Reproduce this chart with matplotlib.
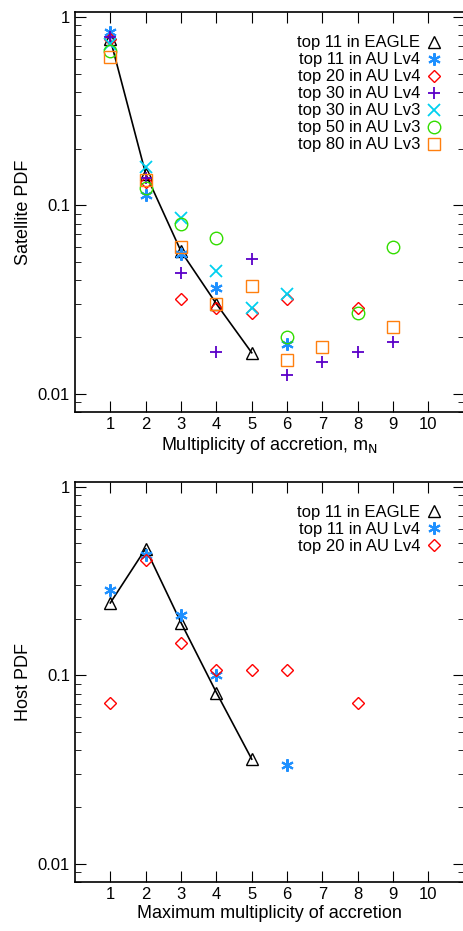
import matplotlib
matplotlib.use("Agg")
import matplotlib.pyplot as plt
import numpy as np
from matplotlib.ticker import FixedLocator, LogLocator, NullFormatter

plt.rcParams["font.family"] = ["Liberation Sans", "DejaVu Sans"]

# satellite PDF (top panel)
eagle_x = [1, 2, 3, 4, 5]
eagle_y = [0.76, 0.147, 0.057, 0.030, 0.0165]
au4_11_x = [1, 2, 3, 4, 6]
au4_11_y = [0.83, 0.113, 0.055, 0.0366, 0.0183]
au4_20_x = [1, 2, 3, 4, 5, 6, 8]
au4_20_y = [0.76, 0.133, 0.032, 0.0286, 0.0268, 0.032, 0.0286]
au4_30_x = [1, 2, 3, 4, 5, 6, 7, 8, 9]
au4_30_y = [0.78, 0.14, 0.0437, 0.0167, 0.0519, 0.0125, 0.0147, 0.0167, 0.0188]
au3_30_x = [1, 2, 3, 4, 5, 6]
au3_30_y = [0.72, 0.16, 0.086, 0.0446, 0.0285, 0.0337]
au3_50_x = [1, 2, 3, 4, 6, 8, 9]
au3_50_y = [0.66, 0.124, 0.080, 0.0667, 0.020, 0.0268, 0.0598]
au3_80_x = [1, 2, 3, 4, 5, 6, 7, 9]
au3_80_y = [0.61, 0.136, 0.0598, 0.030, 0.0373, 0.0151, 0.0176, 0.0226]

# host PDF (bottom panel)
host_eagle_x = [1, 2, 3, 4, 5]
host_eagle_y = [0.242, 0.47, 0.19, 0.081, 0.0359]
host_au11_x = [1, 2, 3, 4, 6]
host_au11_y = [0.283, 0.434, 0.208, 0.1, 0.0335]
host_au20_x = [1, 2, 3, 4, 5, 6, 8]
host_au20_y = [0.0714, 0.41, 0.148, 0.107, 0.107, 0.107, 0.0714]

BLUE = "#1e90ff"
mfill = dict(linestyle="none", markerfacecolor="none")


def style_axis(ax, xlabel, ylabel):
    ax.set_yscale("log")
    ax.set_xlim(0, 11)
    ax.set_ylim(0.008, 1.06)
    ax.xaxis.set_major_locator(FixedLocator(range(1, 11)))
    ax.yaxis.set_major_locator(FixedLocator([0.01, 0.1, 1]))
    ax.yaxis.set_minor_locator(LogLocator(subs=np.arange(2, 10)))
    ax.yaxis.set_minor_formatter(NullFormatter())
    ax.set_yticklabels(["0.01", "0.1", "1"])
    ax.tick_params(which="both", direction="in", top=True, right=True, labelsize=12)
    ax.tick_params(which="major", length=8)
    ax.tick_params(which="minor", length=4)
    for s in ax.spines.values():
        s.set_linewidth(1.2)
    ax.set_xlabel(xlabel, fontsize=13, labelpad=2)
    ax.set_ylabel(ylabel, fontsize=13)
    ax.legend(loc="upper right", frameon=False, markerfirst=False, fontsize=12,
              handlelength=0.8, handletextpad=0.4, labelspacing=0.12,
              borderaxespad=1.0)


fig = plt.figure(figsize=(4.64, 9.31), dpi=100)
ax1 = fig.add_axes([0.1616, 0.5575, 0.838, 0.4295])
ax1.plot(eagle_x, eagle_y, color="black", lw=1.2, zorder=1)
ax1.plot(eagle_x, eagle_y, marker="^", ms=8, color="black", label="top 11 in EAGLE", **mfill)
ax1.plot(au4_11_x, au4_11_y, marker=(6, 2, 0), ms=9, color=BLUE, mew=1.5, label="top 11 in AU Lv4", linestyle="none")
ax1.plot(au4_20_x, au4_20_y, marker="D", ms=6, color="red", label="top 20 in AU Lv4", **mfill)
ax1.plot(au4_30_x, au4_30_y, marker="+", ms=9, color="#5a00c8", mew=1.3, label="top 30 in AU Lv4", linestyle="none")
ax1.plot(au3_30_x, au3_30_y, marker="x", ms=8, color="#00d0f0", mew=1.3, label="top 30 in AU Lv3", linestyle="none")
ax1.plot(au3_50_x, au3_50_y, marker="o", ms=9, color="#33dd00", label="top 50 in AU Lv3", **mfill)
ax1.plot(au3_80_x, au3_80_y, marker="s", ms=9, color="#ff7f0e", label="top 80 in AU Lv3", **mfill)
style_axis(ax1, "Multiplicity of accretion, m$_\\mathrm{N}$", "Satellite PDF")

ax2 = fig.add_axes([0.1616, 0.0526, 0.838, 0.4297])
ax2.plot(host_eagle_x, host_eagle_y, color="black", lw=1.2, zorder=1)
ax2.plot(host_eagle_x, host_eagle_y, marker="^", ms=8, color="black", label="top 11 in EAGLE", **mfill)
ax2.plot(host_au11_x, host_au11_y, marker=(6, 2, 0), ms=9, color=BLUE, mew=1.5, label="top 11 in AU Lv4", linestyle="none")
ax2.plot(host_au20_x, host_au20_y, marker="D", ms=6, color="red", label="top 20 in AU Lv4", **mfill)
style_axis(ax2, "Maximum multiplicity of accretion", "Host PDF")

fig.savefig("out.png", dpi=100)
